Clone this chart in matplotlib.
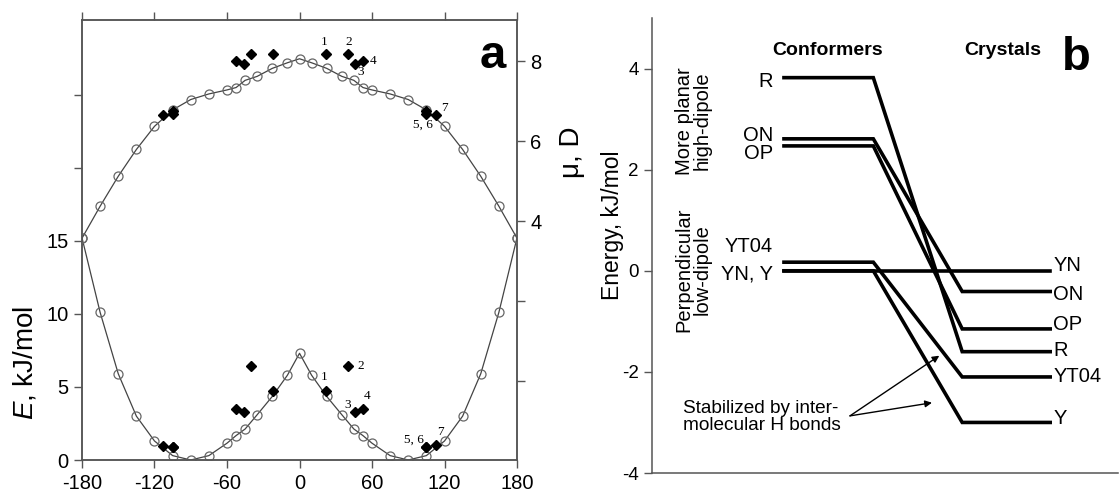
import matplotlib
matplotlib.use("Agg")
import matplotlib.pyplot as plt

plt.rcParams['font.family'] = ['Liberation Sans', 'DejaVu Sans']
plt.rcParams['mathtext.fontset'] = 'custom'
plt.rcParams['mathtext.it'] = 'Liberation Sans:italic'
plt.rcParams['mathtext.rm'] = 'Liberation Sans'
plt.rcParams['axes.unicode_minus'] = False

# ---------------- panel a data ----------------
phi = [-180, -165, -150, -135, -120, -105, -90, -75, -60, -52.5, -45, -35, -22.5, -10, 0,
       10, 22.5, 35, 45, 52.5, 60, 75, 90, 105, 120, 135, 150, 165, 180]
energy = [15.2, 10.1, 5.9, 3.0, 1.3, 0.3, 0.0, 0.3, 1.15, 1.67, 2.12, 3.1, 4.35, 5.8, 7.3,
          5.8, 4.35, 3.1, 2.12, 1.67, 1.15, 0.3, 0.0, 0.3, 1.3, 3.0, 5.9, 10.1, 15.2]
dipole = [3.57, 4.37, 5.12, 5.79, 6.37, 6.78, 7.04, 7.18, 7.28, 7.34, 7.52, 7.62, 7.82, 7.96, 8.06,
          7.96, 7.82, 7.62, 7.52, 7.34, 7.28, 7.18, 7.04, 6.78, 6.37, 5.79, 5.12, 4.37, 3.57]

# crystal structures (filled diamonds)
phi_x = [-113, -105, -105, -52.5, -46, -40, -22, 22, 40, 46, 52.5, 105, 105, 113]
energy_x = [0.98, 0.87, 0.87, 3.47, 3.31, 6.46, 4.7, 4.7, 6.46, 3.31, 3.47, 0.87, 0.87, 1.0]
dipole_x = [6.65, 6.75, 6.68, 8.0, 7.94, 8.17, 8.17, 8.17, 8.17, 7.94, 8.0, 6.75, 6.68, 6.65]

lab_names = ['1', '2', '3', '4', '5, 6', '7']
lab_E_pos = [(20.3, 5.7), (50.7, 6.44), (39.6, 3.77), (55.6, 4.38), (94.8, 1.37), (116.9, 1.94)]
lab_mu_pos = [(20.3, 8.48), (40.4, 8.48), (50.9, 7.73), (61.1, 8.0), (102.5, 6.4), (119.6, 6.82)]

# ---------------- panel b data ----------------
names = ['R', 'ON', 'OP', 'YT04', 'YN', 'Y']
conf_E = [3.82, 2.61, 2.47, 0.17, 0.0, 0.0]
cryst_E = [-1.60, -0.41, -1.15, -2.10, 0.0, -3.0]
conf_labels = ['R', 'ON', 'OP', 'YT04', 'YN, Y']
conf_label_y = [3.74, 2.67, 2.31, 0.49, -0.07]
cryst_labels = ['YN', 'ON', 'OP', 'R', 'YT04', 'Y']
cryst_label_y = [0.10, -0.46, -1.06, -1.58, -2.10, -2.93]

spine_c = '#555555'

fig = plt.figure(figsize=(11.2, 4.91), dpi=100)

# ================= panel a =================
ax = fig.add_axes([82/1120, 1-460/491, 435/1120, 440/491])
ax.plot(phi, energy, '-', color='#444444', lw=0.9, zorder=2)
ax.plot(phi, energy, 'o', mfc='none', mec='#666666', ms=6.5, mew=0.9, zorder=3)
ax.plot(phi_x, energy_x, 'D', color='black', ms=5.5, zorder=4)
for t, (x, y) in zip(lab_names, lab_E_pos):
    ax.text(x, y, t, fontsize=9.5, family='Liberation Serif', ha='center', va='center')

ax.set_xlim(-180, 180)
ax.set_ylim(0, 30.1)
ax.set_xticks([-180, -120, -60, 0, 60, 120, 180])
ax.set_yticks([0, 5, 10, 15, 20, 25])
ax.set_yticklabels(['0', '5', '10', '15', '', ''])
ax.tick_params(axis='both', direction='out', length=6, width=1, color=spine_c,
               labelsize=14.5, top=True)
ax.tick_params(axis='x', pad=4)
for s in ax.spines.values():
    s.set_color(spine_c)
    s.set_linewidth(1.1)

ax2 = ax.twinx()
ax2.plot(phi, dipole, '-', color='#444444', lw=0.9, zorder=2)
ax2.plot(phi, dipole, 'o', mfc='none', mec='#666666', ms=6.5, mew=0.9, zorder=3)
ax2.plot(phi_x, dipole_x, 'D', color='black', ms=5.5, zorder=4)
for t, (x, y) in zip(lab_names, lab_mu_pos):
    ax2.text(x, y, t, fontsize=9.5, family='Liberation Serif', ha='center', va='center')
ax2.set_ylim(-1.98, 9.03)
ax2.set_yticks([0, 2, 4, 6, 8])
ax2.set_yticklabels(['', '', '4', '6', '8'])
ax2.tick_params(axis='y', direction='out', length=6, width=1, color=spine_c, labelsize=14.5)
for s in ax2.spines.values():
    s.set_color(spine_c)
    s.set_linewidth(1.1)

fig.text(493/1120, 1-56/491, 'a', fontsize=34, fontweight='bold', ha='center', va='center')
fig.text(25/1120, 1-363/491, r'$E$, kJ/mol', rotation=90, fontsize=20,
         ha='center', va='center')
fig.text(572/1120, 1-152/491, 'μ, D', rotation=90, fontsize=20,
         ha='center', va='center')

# ================= panel b =================
bx = fig.add_axes([652/1120, 1-473/491, 466/1120, 455/491])
x1, x2, x3, x4 = 2.88, 4.83, 6.77, 8.69
for ce, ke in zip(conf_E, cryst_E):
    bx.plot([x1, x2, x3, x4], [ce, ce, ke, ke], '-', color='black', lw=2.6,
            solid_joinstyle='miter')

for t, y in zip(conf_labels, conf_label_y):
    bx.text(2.64, y, t, fontsize=14.5, ha='right', va='center')
for t, y in zip(cryst_labels, cryst_label_y):
    bx.text(8.76, y, t, fontsize=14.5, ha='left', va='center')

bx.text(3.84, 4.35, 'Conformers', fontsize=14, fontweight='bold', ha='center', va='center')
bx.text(7.66, 4.35, 'Crystals', fontsize=14, fontweight='bold', ha='center', va='center')
bx.text(9.26, 4.2, 'b', fontsize=34, fontweight='bold', ha='center', va='center')

bx.text(0.9, 2.96, 'More planar\nhigh-dipole', rotation=90, fontsize=14.5,
        ha='center', va='center', linespacing=0.95)
bx.text(0.9, 0.03, 'Perpendicular\nlow-dipole', rotation=90, fontsize=14.5,
        ha='center', va='center', linespacing=0.95)

bx.text(0.67, -2.89, 'Stabilized by inter-\nmolecular H bonds', fontsize=13.7,
        ha='left', va='center', linespacing=1.05)
for end in [(6.27, -1.68), (6.11, -2.61)]:
    bx.annotate('', xy=end, xytext=(4.32, -2.87),
                arrowprops=dict(arrowstyle='-|>', color='black', lw=1.0,
                                mutation_scale=10, shrinkA=0, shrinkB=0))

bx.set_xlim(0, 10.17)
bx.set_ylim(-4, 5)
bx.set_xticks([])
bx.set_yticks([-4, -2, 0, 2, 4])
bx.tick_params(axis='y', direction='out', length=6, width=1, color=spine_c, labelsize=13.5)
bx.text(-0.084, (0.9 + 4) / 9, 'Energy, kJ/mol', transform=bx.transAxes, rotation=90,
        fontsize=16.5, ha='center', va='center')
bx.spines['top'].set_visible(False)
bx.spines['right'].set_visible(False)
for s in ['left', 'bottom']:
    bx.spines[s].set_color(spine_c)
    bx.spines[s].set_linewidth(1.1)

fig.savefig('out.png', dpi=100)
